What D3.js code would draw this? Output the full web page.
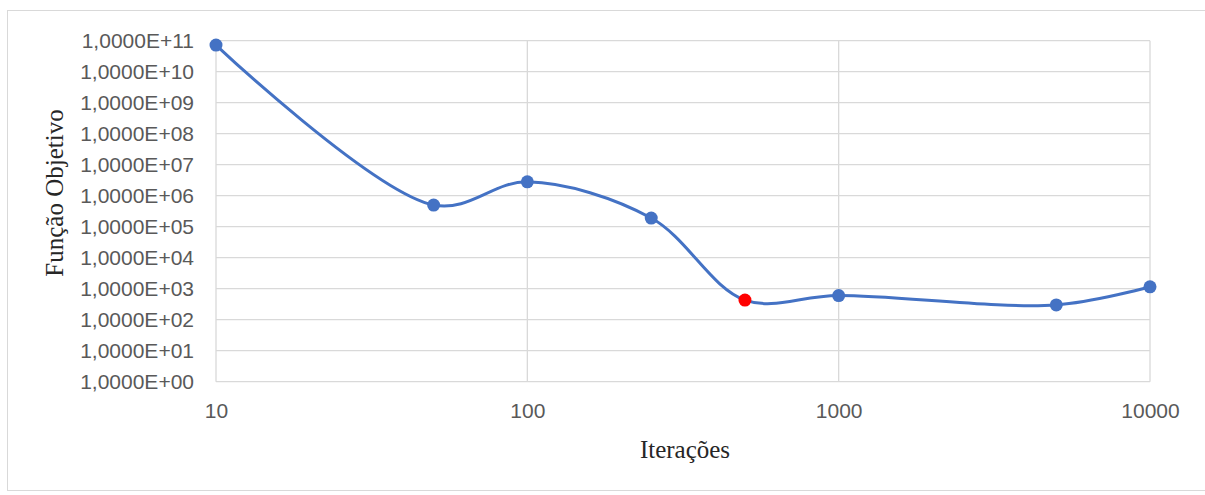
<!DOCTYPE html>
<html>
<head>
<meta charset="utf-8">
<script src="https://cdn.jsdelivr.net/npm/d3@7"></script>
<style>
  html, body { margin: 0; padding: 0; background: #fff; overflow: hidden; }
  svg { display: block; }
</style>
</head>
<body>
<svg id="chart" width="1205" height="495"></svg>
<script>
// ---- data ----
const iterations = [10, 50, 100, 250, 500, 1000, 5000, 10000];
const objective  = [7.2e10, 5.0e5, 2.8e6, 1.9e5, 430, 600, 300, 1150];
const highlightIndex = 4; // red marker (500 iterations)
const xTicks = [10, 100, 1000, 10000];
const xTickLabels = ["10", "100", "1000", "10000"];
const yTicks = [1e0, 1e1, 1e2, 1e3, 1e4, 1e5, 1e6, 1e7, 1e8, 1e9, 1e10, 1e11];
const yTickLabels = ["1,0000E+00", "1,0000E+01", "1,0000E+02", "1,0000E+03", "1,0000E+04", "1,0000E+05",
                     "1,0000E+06", "1,0000E+07", "1,0000E+08", "1,0000E+09", "1,0000E+10", "1,0000E+11"];
const xTitle = "Iterações";
const yTitle = "Função Objetivo";

// ---- layout ----
const svg = d3.select("#chart");
const plot = { left: 216, right: 1150, top: 40.7, bottom: 381.7 };

const x = d3.scaleLog().domain([10, 10000]).range([plot.left, plot.right]);
const y = d3.scaleLog().domain([1, 1e11]).range([plot.bottom, plot.top]);

// outer chart border (right edge runs past the visible area)
svg.append("rect")
  .attr("x", 7.5).attr("y", 10.5)
  .attr("width", 1230).attr("height", 480)
  .attr("fill", "#fff")
  .attr("stroke", "#d9d9d9").attr("stroke-width", 1);

// gridlines
const grid = svg.append("g").attr("stroke", "#d9d9d9").attr("stroke-width", 1.3);
grid.selectAll("line.h").data(yTicks).join("line")
  .attr("class", "h")
  .attr("x1", plot.left).attr("x2", plot.right)
  .attr("y1", d => y(d)).attr("y2", d => y(d));
grid.selectAll("line.v").data(xTicks).join("line")
  .attr("class", "v")
  .attr("x1", d => x(d)).attr("x2", d => x(d))
  .attr("y1", plot.top).attr("y2", plot.bottom);

// y axis labels
const yAxis = d3.axisLeft(y).tickValues(yTicks)
  .tickFormat((d, i) => yTickLabels[i]).tickSize(0).tickPadding(0);
const gy = svg.append("g").attr("transform", `translate(${plot.left - 22},0)`).call(yAxis);
gy.select(".domain").remove();
gy.selectAll("text")
  .attr("fill", "#595959")
  .style("font-family", "'Liberation Sans', Arial, sans-serif")
  .style("font-size", "21px");

// x axis labels
const xAxis = d3.axisBottom(x).tickValues(xTicks)
  .tickFormat((d, i) => xTickLabels[i]).tickSize(0).tickPadding(0);
const gx = svg.append("g").attr("transform", `translate(0,${plot.bottom + 21})`).call(xAxis);
gx.select(".domain").remove();
gx.selectAll("text")
  .attr("fill", "#595959")
  .style("font-family", "'Liberation Sans', Arial, sans-serif")
  .style("font-size", "21px");

// axis titles
svg.append("text")
  .attr("x", 685).attr("y", 452)
  .attr("text-anchor", "middle").attr("dominant-baseline", "middle")
  .attr("fill", "#262626")
  .style("font-family", "'Liberation Serif', 'Times New Roman', serif")
  .style("font-size", "25px")
  .text(xTitle);

svg.append("text")
  .attr("transform", `translate(57,193) rotate(-90)`)
  .attr("text-anchor", "middle").attr("dominant-baseline", "middle")
  .attr("fill", "#262626")
  .style("font-family", "'Liberation Serif', 'Times New Roman', serif")
  .style("font-size", "25px")
  .text(yTitle);

// line
const pts = iterations.map((d, i) => ({ x: d, y: objective[i], i }));
const line = d3.line()
  .x(d => x(d.x)).y(d => y(d.y))
  .curve(d3.curveCatmullRom.alpha(0.5));
svg.append("path")
  .datum(pts)
  .attr("fill", "none")
  .attr("stroke", "#4472C4")
  .attr("stroke-width", 3)
  .attr("d", line);

// markers
svg.selectAll("circle.pt").data(pts).join("circle")
  .attr("class", "pt")
  .attr("cx", d => x(d.x)).attr("cy", d => y(d.y))
  .attr("r", 6.5)
  .attr("fill", d => d.i === highlightIndex ? "#FF0000" : "#4472C4");
</script>
</body>
</html>
